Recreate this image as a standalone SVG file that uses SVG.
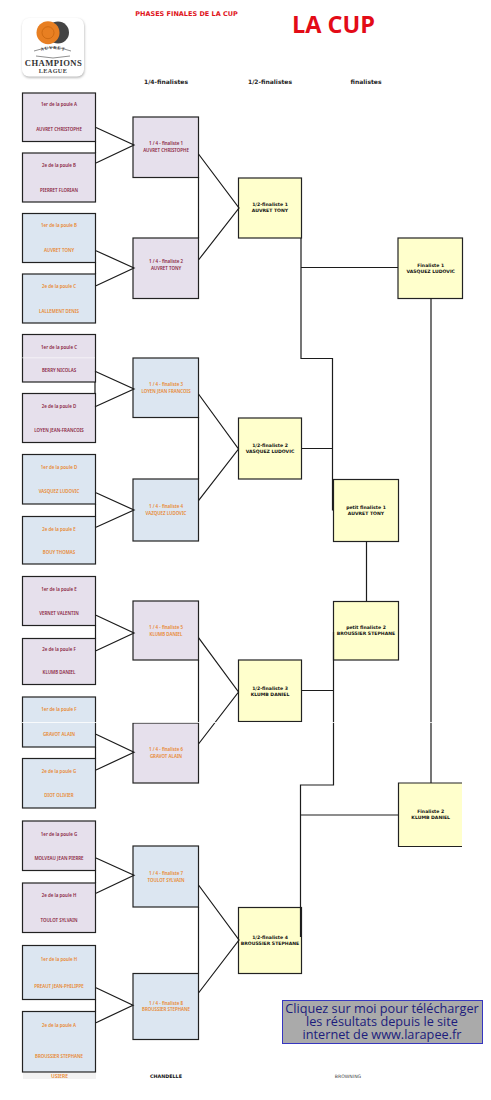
<svg xmlns="http://www.w3.org/2000/svg" width="491" height="1100" viewBox="0 0 491 1100">
<defs>
<path id="arcA" d="M35 54 Q53 44 71 54"/>
<filter id="sh" x="-10%" y="-10%" width="120%" height="120%"><feGaussianBlur stdDeviation="0.8"/></filter>
</defs>
<style>
.box{stroke:#222;stroke-width:1.2}
.p{fill:#e6e0ec}.b{fill:#dce6f1}.y{fill:#ffffcc}
text{text-anchor:middle}
.s{font:600 4.45px "Noto Sans",sans-serif}
.r{fill:#8a1f3f}.o{fill:#e8862e}
.k{font:bold 4.6px "DejaVu Sans",sans-serif;fill:#111}
.h{font:bold 6px "DejaVu Sans",sans-serif;fill:#222}
.c path,.c line{stroke:#1c1c1c;stroke-width:1.2;fill:none}
</style>
<rect width="491" height="1100" fill="#fff"/>

<g id="logo">
<rect x="22.5" y="19" width="62" height="59" rx="7" fill="#bbb" filter="url(#sh)"/>
<rect x="22" y="18" width="62" height="58.5" rx="7" fill="#fff"/>
<circle cx="58" cy="32.5" r="11" fill="#444"/>
<circle cx="48" cy="32.7" r="11.5" fill="#e87f22"/>
<circle cx="48" cy="32.7" r="6" fill="none" stroke="#c9660f" stroke-width="0.8"/>
<path d="M34 51 Q53 44 71 51" fill="none" stroke="#444" stroke-width="0.6"/>
<path d="M36 56 L53 58 L70 56" fill="none" stroke="#444" stroke-width="0.6"/>
<text font-family="Liberation Serif,serif" font-size="4.6" font-weight="bold" fill="#333" letter-spacing="0.8"><textPath href="#arcA" startOffset="50%">AUVRET</textPath></text>
<text x="53.5" y="65.7" font-family="Liberation Serif,serif" font-size="8.6" font-weight="bold" letter-spacing="0.45" fill="#333">CHAMPIONS</text>
<text x="53" y="73" font-family="Liberation Serif,serif" font-size="6.2" font-weight="bold" letter-spacing="0.4" fill="#444">LEAGUE</text>
</g>

<g id="titles">
<text x="186.5" y="15.8" font-family="DejaVu Sans,sans-serif" font-weight="bold" font-size="6.5" fill="#e0141c">PHASES FINALES DE LA CUP</text>
<text x="333.5" y="32.7" font-family="Open Sans,sans-serif" font-weight="700" font-size="23.500" fill="#e30b17">LA CUP</text>
<text class="h" x="166" y="83.8">1/4-finalistes</text>
<text class="h" x="270" y="83.8">1/2-finalistes</text>
<text class="h" x="366" y="83.8">finalistes</text>
</g>

<g id="p1"><rect class="box p" x="22.500" y="93" width="73" height="48.500"/><text class="s r" x="59" y="106.400">1er de la poule A</text><text class="s r" x="59" y="131">AUVRET CHRISTOPHE</text></g>
<g id="p2"><rect class="box p" x="22.500" y="153" width="73" height="49"/><text class="s r" x="59" y="167">2e de la poule B</text><text class="s r" x="59" y="191.700">PIERRET FLORIAN</text></g>
<g id="p3"><rect class="box b" x="22.500" y="213.500" width="73" height="49"/><text class="s o" x="59" y="227.400">1er de la poule B</text><text class="s o" x="59" y="252">AUVRET TONY</text></g>
<g id="p4"><rect class="box b" x="22.500" y="274" width="73" height="49"/><text class="s o" x="59" y="288">2e de la poule C</text><text class="s o" x="59" y="312.700">LALLEMENT DENIS</text></g>
<g id="p5"><rect class="box p" x="22.500" y="334.500" width="73" height="47.500"/><text class="s r" x="59" y="348.700">1er de la poule C</text><text class="s r" x="59" y="371.700">BERRY NICOLAS</text></g>
<g id="p6"><rect class="box p" x="22.500" y="393.500" width="73" height="49"/><text class="s r" x="59" y="407.700">2e de la poule D</text><text class="s r" x="59" y="432">LOYEN JEAN-FRANCOIS</text></g>
<g id="p7"><rect class="box b" x="22.500" y="454.500" width="73" height="49.500"/><text class="s o" x="59" y="468.700">1er de la poule D</text><text class="s o" x="59" y="493.400">VASQUEZ LUDOVIC</text></g>
<g id="p8"><rect class="box b" x="22.500" y="516.500" width="73" height="47.500"/><text class="s o" x="59" y="530.700">2e de la poule E</text><text class="s o" x="59" y="554.400">BOUY THOMAS</text></g>
<g id="p9"><rect class="box p" x="22.500" y="576.500" width="73" height="49"/><text class="s r" x="59" y="590.700">1er de la poule E</text><text class="s r" x="59" y="615.400">VERNET VALENTIN</text></g>
<g id="p10"><rect class="box p" x="22.500" y="638.500" width="73" height="46"/><text class="s r" x="59" y="651.400">2e de la poule F</text><text class="s r" x="59" y="674">KLUMB DANIEL</text></g>
<g id="p11"><rect class="box b" x="22.500" y="697" width="73" height="50"/><text class="s o" x="59" y="711.400">1er de la poule F</text><text class="s o" x="59" y="736.400">GRAVOT ALAIN</text></g>
<g id="p12"><rect class="box b" x="22.500" y="758.500" width="73" height="49.500"/><text class="s o" x="59" y="772.700">2e de la poule G</text><text class="s o" x="59" y="797.400">DIOT OLIVIER</text></g>
<g id="p13"><rect class="box p" x="22.500" y="821" width="73" height="49.500"/><text class="s r" x="59" y="835.700">1er de la poule G</text><text class="s r" x="59" y="860">MOLVEAU JEAN PIERRE</text></g>
<g id="p14"><rect class="box p" x="22.500" y="883" width="73" height="49.500"/><text class="s r" x="59" y="897">2e de la poule H</text><text class="s r" x="59" y="921.700">TOULOT SYLVAIN</text></g>
<g id="p15"><rect class="box b" x="22.500" y="945.500" width="73" height="54"/><text class="s o" x="59" y="961.400">1er de la poule H</text><text class="s o" x="59" y="988.400">PREAUT JEAN-PHILIPPE</text></g>
<g id="p16"><rect class="box b" x="22.500" y="1011.500" width="73" height="60.500"/><text class="s o" x="59" y="1027.400">2e de la poule A</text><text class="s o" x="59" y="1057.700">BROUSSIER STEPHANE</text></g>

<g id="q1"><rect class="box p" x="133" y="117" width="65.500" height="60.500"/><text class="s r" x="166" y="145.400">1 / 4 - finaliste 1</text><text class="s r" x="166" y="152">AUVRET CHRISTOPHE</text></g>
<g id="q2"><rect class="box p" x="133" y="238" width="65.500" height="60.500"/><text class="s r" x="166" y="263.400">1 / 4 - finaliste 2</text><text class="s r" x="166" y="270">AUVRET TONY</text></g>
<g id="q3"><rect class="box b" x="133" y="358" width="65.500" height="59.500"/><text class="s o" x="166" y="386">1 / 4 - finaliste 3</text><text class="s o" x="166" y="392.700">LOYEN JEAN FRANCOIS</text></g>
<g id="q4"><rect class="box b" x="133" y="479" width="65.500" height="62"/><text class="s o" x="166" y="508.400">1 / 4 - finaliste 4</text><text class="s o" x="166" y="515">VAZQUEZ LUDOVIC</text></g>
<g id="q5"><rect class="box p" x="133" y="601" width="65.500" height="59"/><text class="s o" x="166" y="629">1 / 4 - finaliste 5</text><text class="s o" x="166" y="635.700">KLUMB DANIEL</text></g>
<g id="q6"><rect class="box p" x="133" y="723" width="65.500" height="60"/><text class="s o" x="166" y="751">1 / 4 - finaliste 6</text><text class="s o" x="166" y="757.700">GRAVOT ALAIN</text></g>
<g id="q7"><rect class="box b" x="133" y="846" width="65.500" height="61"/><text class="s o" x="166" y="875">1 / 4 - finaliste 7</text><text class="s o" x="166" y="881.700">TOULOT SYLVAIN</text></g>
<g id="q8"><rect class="box b" x="133" y="973.500" width="65.500" height="66"/><text class="s o" x="166" y="1004.700">1 / 4 - finaliste 8</text><text class="s o" x="166" y="1011.400">BROUSSIER STEPHANE</text></g>

<g id="s1"><rect class="box y" x="238.500" y="178" width="63" height="60"/><text class="k" x="270" y="206.300">1/2-finaliste 1</text><text class="k" x="270" y="212.300">AUVRET TONY</text></g>
<g id="s2"><rect class="box y" x="238.500" y="418" width="63" height="61"/><text class="k" x="270" y="447.300">1/2-finaliste 2</text><text class="k" x="270" y="453.300">VASQUEZ LUDOVIC</text></g>
<g id="s3"><rect class="box y" x="238.500" y="660" width="63" height="61.500"/><text class="k" x="270" y="689.600">1/2-finaliste 3</text><text class="k" x="270" y="695.600">KLUMB DANIEL</text></g>
<g id="s4"><rect class="box y" x="238.500" y="907.500" width="63" height="66"/><text class="k" x="270" y="938.900">1/2-finaliste 4</text><text class="k" x="270" y="944.900">BROUSSIER STEPHANE</text></g>

<g id="f1"><rect class="box y" x="398" y="238" width="64.500" height="60.500"/><text class="k" x="430.700" y="266.900">Finaliste 1</text><text class="k" x="430.700" y="272.900">VASQUEZ LUDOVIC</text></g>
<g id="pf1"><rect class="box y" x="333.500" y="479.500" width="65" height="62"/><text class="k" x="366" y="508.600">petit finaliste 1</text><text class="k" x="366" y="514.600">AUVRET TONY</text></g>
<g id="pf2"><rect class="box y" x="333.500" y="601.500" width="65" height="58.500"/><text class="k" x="366" y="628.900">petit finaliste 2</text><text class="k" x="366" y="635.300">BROUSSIER STEPHANE</text></g>
<g id="f2"><rect class="y" x="398" y="783" width="64" height="63.500"/><path d="M462 783H398.500V846.500H462" fill="none" stroke="#222" stroke-width="1.2"/><text class="k" x="430.700" y="813.300">Finaliste 2</text><text class="k" x="430.700" y="819.300">KLUMB DANIEL</text></g>

<g id="connectors" class="c">
<path d="M96 127.500L134 145L96 163M95.500 141.500V153"/>
<path d="M96 250.700L134 268L96 285.700M95.500 262.500V274"/>
<path d="M95 371.300L134 389L95 406.700M95 382V393.500"/>
<path d="M96 492.700L134 510L96 527.300M95.500 504V516.500"/>
<path d="M96 615.300L134 633L96 650.700M95.500 625.500V638.500"/>
<path d="M96 734.300L134 752.300L96 770M95.500 747V758.500"/>
<path d="M96 858L134 875.300L96 893.300M95.500 870.500V883"/>
<path d="M96 987.700L133 1005.300L96 1022.700M95.500 999.500V1011.500"/>
<path d="M198.500 154L239 208L198.500 260M198.500 177V238"/>
<path d="M198.500 394L238.500 449L198.500 500.700M198.500 417V479"/>
<path d="M198.500 637.700L238.500 692L198.500 744M198.500 660V723"/>
<path d="M198.500 885L239 940L198.500 993M198.500 907V973.500"/>
<path d="M301 238V358.500H332.500V510.500M301 267.500H398M301.500 448.500H332.500"/>
<path d="M301.500 690.500H333.500M333.500 632V785H300.500V937M300.500 815H398"/>
<path d="M431 298V783M366.500 541V601"/>
</g>

<g id="page-seams">
<rect x="22" y="357.500" width="73" height="0.700" fill="#fff" opacity="0.8"/>
<rect x="22" y="722" width="440" height="0.800" fill="#fff"/>
</g>

<g id="footer">
<rect x="23" y="1073" width="73" height="6" fill="#f2f2f2"/>
<text x="59.500" y="1077.500" font-family="Noto Sans,sans-serif" font-size="5" font-weight="600" fill="#e8862e">USIERE</text>
<text x="166" y="1077.500" font-family="DejaVu Sans,sans-serif" font-size="4.800" font-weight="bold" fill="#111">CHANDELLE</text>
<text x="348" y="1077.800" font-family="DejaVu Sans,sans-serif" font-size="4.600" fill="#444">BROWNING</text>
</g>

<g id="download">
<rect x="282.500" y="1000.500" width="200" height="43" fill="#aaaaaa" stroke="#3636c0" stroke-width="1"/>
<text font-family="Open Sans,sans-serif" font-size="12.700" fill="#1c1c7c"><tspan x="382" y="1013">Cliquez sur moi pour télécharger</tspan><tspan x="382" y="1026">les résultats depuis le site</tspan><tspan x="382" y="1039">internet de www.larapee.fr</tspan></text>
</g>
</svg>
